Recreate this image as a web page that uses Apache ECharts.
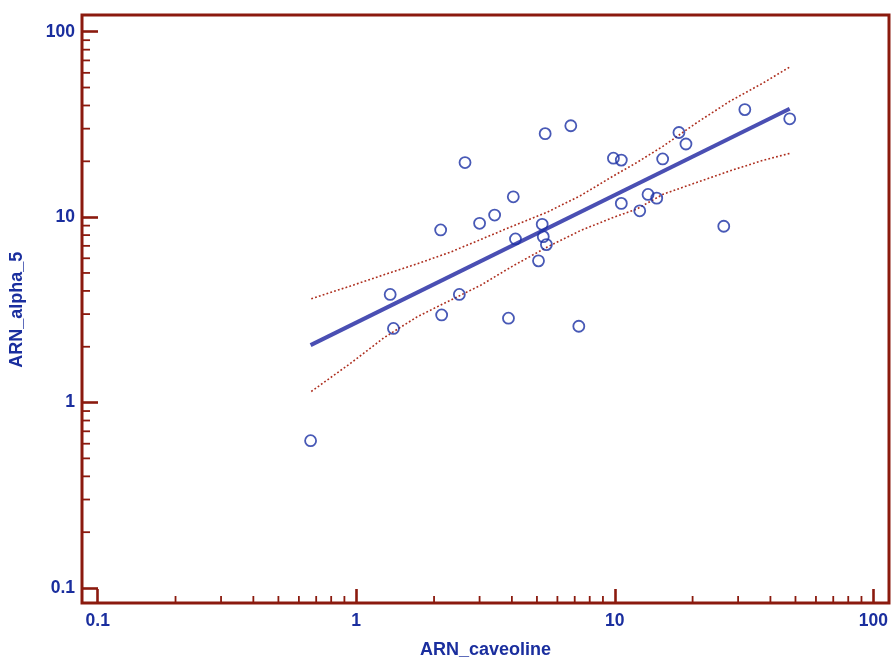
<!DOCTYPE html>
<html>
<head>
<meta charset="utf-8">
<script src="https://cdn.jsdelivr.net/npm/echarts@6/dist/echarts.min.js"></script>
<style>
html,body{margin:0;padding:0;background:#fff;}
#chart{width:893px;height:664px;}
</style>
</head>
<body>
<div id="chart"></div>
<script>
// ---- data ----
const caveoline = [0.666, 1.353, 1.393, 2.121, 2.14, 2.505, 2.635, 3.0, 3.43, 4.05, 3.88, 4.13, 5.24, 5.29, 5.44, 5.07, 5.38, 6.76, 7.26, 9.88, 10.6, 10.6, 12.49, 13.45, 14.53, 15.32, 17.71, 18.85, 26.4, 31.85, 47.5];
const alpha5    = [0.623, 3.83, 2.51, 8.53, 2.97, 3.83, 19.7, 9.26, 10.26, 12.87, 2.85, 7.63, 9.15, 7.85, 7.11, 5.81, 28.2, 31.1, 2.58, 20.8, 20.3, 11.86, 10.82, 13.26, 12.66, 20.59, 28.6, 24.8, 8.93, 38.0, 33.9];

const fitX = [0.666, 47.5];
const fitY = [2.04, 38.4];

const bandX     = [0.67, 0.95, 1.28, 1.72, 2.31, 3.02, 4.06, 5.46, 7.35, 9.88, 12.16, 15.4, 20.73, 27.87, 37.47, 47.5];
const bandUpper = [3.63, 4.25, 4.89, 5.60, 6.47, 7.56, 8.99, 10.61, 13.03, 16.68, 19.69, 24.16, 32.28, 42.15, 52.9, 64.5];
const bandLower = [1.147, 1.627, 2.236, 2.90, 3.56, 4.28, 5.48, 6.88, 8.45, 9.97, 11.05, 13.30, 15.38, 17.75, 20.26, 22.08];

const xTickLabels = ['0.1', '1', '10', '100'];
const yTickLabels = ['0.1', '1', '10', '100'];
const xMinorTicks = [0.2, 0.3, 0.4, 0.5, 0.6, 0.7, 0.8, 0.9, 2, 3, 4, 5, 6, 7, 8, 9, 20, 30, 40, 50, 60, 70, 80, 90];
const yMinorTicks = [0.2, 0.3, 0.4, 0.5, 0.6, 0.7, 0.8, 0.9, 2, 3, 4, 5, 6, 7, 8, 9, 20, 30, 40, 50, 60, 70, 80, 90];

const xName = 'ARN_caveoline';
const yName = 'ARN_alpha_5';

// ---- styles ----
const FRAME = '#8b1a0e';
const TEXT = '#1a2e9e';
const FONT = '"Liberation Sans", Arial, sans-serif';
const OFF_L = 15.7, OFF_R = 15.7, OFF_T = 16.7, OFF_B = 15;

const zip = (a, b) => a.map((v, i) => [v, b[i]]);
const labelFor = (arr) => (v) => arr[Math.round(Math.log10(v)) + 1];

const chart = echarts.init(document.getElementById('chart'), null, {renderer: 'canvas'});
chart.setOption({
  animation: false,
  backgroundColor: '#ffffff',
  grid: {left: 96.7, right: 19.7, top: 31.7, bottom: 73.3, containLabel: false},
  xAxis: {
    type: 'log', logBase: 10, min: 0.1, max: 100,
    position: 'bottom', offset: OFF_B,
    name: xName, nameLocation: 'middle', nameGap: 38,
    nameTextStyle: {color: TEXT, fontWeight: 'bold', fontSize: 18, fontFamily: FONT},
    axisLine: {show: false},
    axisTick: {show: true, inside: true, length: 14, lineStyle: {color: FRAME, width: 2.6}},
    axisLabel: {color: TEXT, fontWeight: 'bold', fontSize: 17.5, fontFamily: FONT, margin: 9, formatter: labelFor(xTickLabels)},
    splitLine: {show: false},
    minorTick: {show: false}
  },
  yAxis: {
    type: 'log', logBase: 10, min: 0.1, max: 100,
    position: 'left', offset: OFF_L,
    name: yName, nameLocation: 'middle', nameGap: 56, nameRotate: 90,
    nameTextStyle: {color: TEXT, fontWeight: 'bold', fontSize: 18, fontFamily: FONT},
    axisLine: {show: false},
    axisTick: {show: true, inside: true, length: 16, lineStyle: {color: FRAME, width: 2.6}},
    axisLabel: {color: TEXT, fontWeight: 'bold', fontSize: 17.5, fontFamily: FONT, margin: 7, formatter: labelFor(yTickLabels)},
    splitLine: {show: false},
    minorTick: {show: false}
  },
  series: [
    {
      type: 'custom', clip: false, silent: true, z: 10,
      data: [[1, 1]],
      renderItem: (params, api) => {
        const cs = params.coordSys;
        return {
          type: 'rect',
          shape: {x: cs.x - OFF_L, y: cs.y - OFF_T, width: cs.width + OFF_L + OFF_R, height: cs.height + OFF_T + OFF_B},
          style: {fill: 'none', stroke: FRAME, lineWidth: 3}
        };
      }
    },
    {
      type: 'custom', clip: false, silent: true, z: 10,
      data: xMinorTicks.map(v => [v, 1]),
      renderItem: (params, api) => {
        const cs = params.coordSys;
        const x = api.coord([api.value(0), 1])[0];
        const y0 = cs.y + cs.height + OFF_B;
        return {type: 'line', shape: {x1: x, y1: y0, x2: x, y2: y0 - 7}, style: {stroke: FRAME, lineWidth: 1.8}};
      }
    },
    {
      type: 'custom', clip: false, silent: true, z: 10,
      data: yMinorTicks.map(v => [1, v]),
      renderItem: (params, api) => {
        const cs = params.coordSys;
        const y = api.coord([1, api.value(1)])[1];
        const x0 = cs.x - OFF_L;
        return {type: 'line', shape: {x1: x0, y1: y, x2: x0 + 8, y2: y}, style: {stroke: FRAME, lineWidth: 1.8}};
      }
    },
    {
      type: 'line', data: zip(bandX, bandUpper), symbol: 'none', silent: true, z: 2,
      lineStyle: {color: '#ad2e1e', width: 1.6, type: [1.8, 2.2]}
    },
    {
      type: 'line', data: zip(bandX, bandLower), symbol: 'none', silent: true, z: 2,
      lineStyle: {color: '#ad2e1e', width: 1.6, type: [1.8, 2.2]}
    },
    {
      type: 'line', data: zip(fitX, fitY), symbol: 'none', silent: true, z: 3,
      lineStyle: {color: '#4a4fb3', width: 4}
    },
    {
      type: 'scatter', data: zip(caveoline, alpha5), symbol: 'circle', symbolSize: 11, z: 4,
      itemStyle: {color: 'rgba(255,255,255,0)', borderColor: '#1a30a4', borderWidth: 1.8}
    }
  ]
});
</script>
</body>
</html>
